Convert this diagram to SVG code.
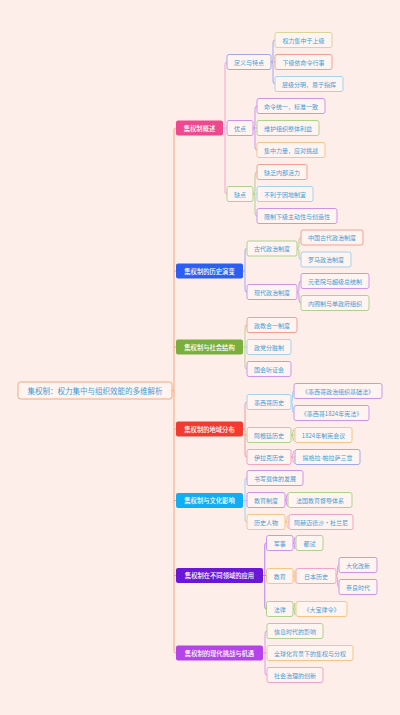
<svg xmlns="http://www.w3.org/2000/svg" width="400" height="715" viewBox="0 0 400 715">
<style>
text{font-family:"Noto Sans CJK SC","Noto Sans",sans-serif;dominant-baseline:central;text-anchor:middle}
.n rect{fill:#fff4f0;stroke-width:1}
.n text{font-size:6px;fill:#3e9ed9}
.h rect{stroke:none}
.h text{font-size:6.3px;fill:#ffffff;font-weight:500}
.c path{fill:none;stroke-width:1}
.kh{stroke:#d8d49c}.sa{stroke:#f4a091}.lb{stroke:#a4d2f0}.bp{stroke:#a3a8ee}
.pu{stroke:#cd95ea}.gr{stroke:#aed18e}.or{stroke:#f7c48a}.pk{stroke:#f3a3c3}
</style>
<rect width="400" height="715" fill="#fdeeea"/>

<g id="connectors" class="c">
<path stroke="#f5a77c" d="M172,390.5 H174 M176,128 Q174,128 174,130 V651 Q174,653 176,653 M174,271 H176 M174,347 H176 M174,429 H176 M174,500.5 H176 M174,575.5 H176"/>
<path stroke="#f6a6c8" d="M227,62 Q225,62 225,64 V192 Q225,194 227,194 M223,128 H227"/>
<path stroke="#a3a6ee" d="M247,248.5 Q245,248.5 245,250.5 V290 Q245,292 247,292 M243,271 H245"/>
<path stroke="#b7d38e" d="M247,325 Q245,325 245,327 V367 Q245,369 247,369 M243,347 H247"/>
<path stroke="#f29aa0" d="M247,402 Q245,402 245,404 V455 Q245,457 247,457 M243,429 H245 M245,435 H247"/>
<path stroke="#9fd0f0" d="M247,478 Q245,478 245,480 V520 Q245,522 247,522 M243,500.5 H247"/>
<path stroke="#b77de6" d="M266.5,543 Q264.8,543 264.8,545 V607 Q264.8,609 266.5,609 M263,575.5 H266.5"/>
<path stroke="#d59cec" d="M267,631 Q265,631 265,633 V673 Q265,675 267,675 M263,653 H267"/>

<path class="bp" d="M275,40 Q273,40 273,43 V59 Q273,62 271,62 Q273,62 273,65 V81 Q273,84 275,84 M271,62 H275"/>
<path class="pu" d="M257,106 Q255,106 255,109 V125 Q255,128 253,128 Q255,128 255,131 V147 Q255,150 257,150 M253,128 H257"/>
<path class="gr" d="M257,172 Q255,172 255,175 V191 Q255,194 253,194 Q255,194 255,197 V213 Q255,216 257,216 M253,194 H257"/>
<path class="gr" d="M301,237.5 Q299,237.5 299,240.5 V245.5 Q299,248.5 297,248.5 Q299,248.5 299,251.5 V256.5 Q299,259.5 301,259.5"/>
<path class="pu" d="M301,281 Q299,281 299,284 V289 Q299,292 297,292 Q299,292 299,295 V300 Q299,303 301,303"/>
<path class="lb" d="M294,391 Q292.5,391 292.5,394 V399 Q292.5,402 291,402 Q292.5,402 292.5,405 V410 Q292.5,413 294,413"/>
<path class="gr" d="M294.5,429 Q293,429 293,432 Q293,435 291,435 Q293,435 293,438 Q293,441 294.5,441 M291,435 H295"/>
<path class="pk" d="M294.5,451 Q293,451 293,454 Q293,457 291,457 Q293,457 293,460 Q293,463 294.5,463 M291,457 H295"/>
<path class="pu" d="M288,494 Q286.5,494 286.5,497 Q286.5,500 285,500 Q286.5,500 286.5,503 Q286.5,506 288,506 M285,500 H288"/>
<path class="or" d="M288.5,516 Q287,516 287,519 Q287,522 285,522 Q287,522 287,525 Q287,528 288.5,528 M285,522 H289"/>
<path class="pu" d="M295.5,537 Q294.5,537 294.5,540 Q294.5,543 293,543 Q294.5,543 294.5,546 Q294.5,549 295.5,549 M293,543 H296"/>
<path class="or" d="M295.5,570 Q294.5,570 294.5,573 Q294.5,576 293,576 Q294.5,576 294.5,579 Q294.5,582 295.5,582 M293,576 H296"/>
<path class="pk" d="M339,565 Q337.5,565 337.5,568 V573 Q337.5,576 336,576 Q337.5,576 337.5,579 V584 Q337.5,587 339,587"/>
<path class="gr" d="M295.5,603 Q294.5,603 294.5,606 Q294.5,609 293,609 Q294.5,609 294.5,612 Q294.5,615 295.5,615 M293,609 H296"/>
</g>

<g id="root" class="n"><rect x="18" y="382" width="154" height="17" rx="2.5" style="stroke:#f5a77c"/><text x="95" y="390.5" style="font-size:7.5px">集权制：权力集中与组织效能的多维解析</text></g>

<g id="l1-a" class="h"><rect x="176" y="120.5" width="47" height="15" rx="2" fill="#f0488e"/><text x="199.5" y="128">集权制概述</text></g>
<g id="l1-b" class="h"><rect x="176" y="263.5" width="67" height="15" rx="2" fill="#2c5ef2"/><text x="209.5" y="271">集权制的历史演变</text></g>
<g id="l1-c" class="h"><rect x="176" y="339.5" width="67" height="15" rx="2" fill="#7aae3e"/><text x="209.5" y="347">集权制与社会结构</text></g>
<g id="l1-d" class="h"><rect x="176" y="421.5" width="67" height="15" rx="2" fill="#f03c30"/><text x="209.5" y="429">集权制的地域分布</text></g>
<g id="l1-e" class="h"><rect x="176" y="493" width="67" height="15" rx="2" fill="#10aef5"/><text x="209.5" y="500.5">集权制与文化影响</text></g>
<g id="l1-f" class="h"><rect x="176" y="568" width="87" height="15" rx="2" fill="#6b17d6"/><text x="219.5" y="575.5">集权制在不同领域的应用</text></g>
<g id="l1-g" class="h"><rect x="176" y="645.5" width="87" height="15" rx="2" fill="#b443ea"/><text x="219.5" y="653">集权制的现代挑战与机遇</text></g>

<g id="a1" class="n"><rect class="bp" x="227" y="54.5" width="44" height="15" rx="2"/><text x="249" y="62">定义与特点</text></g>
<g id="a11" class="n"><rect class="kh" x="275" y="32.5" width="57" height="15" rx="2"/><text x="303.5" y="40">权力集中于上级</text></g>
<g id="a12" class="n"><rect class="sa" x="275" y="54.5" width="57" height="15" rx="2"/><text x="303.5" y="62">下级依命令行事</text></g>
<g id="a13" class="n"><rect class="lb" x="275" y="76.5" width="68" height="15" rx="2"/><text x="309" y="84">层级分明，易于指挥</text></g>
<g id="a2" class="n"><rect class="pu" x="227" y="120.5" width="26" height="15" rx="2"/><text x="240" y="128">优点</text></g>
<g id="a21" class="n"><rect class="pu" x="257" y="98.5" width="68" height="15" rx="2"/><text x="291" y="106">命令统一，标准一致</text></g>
<g id="a22" class="n"><rect class="gr" x="257" y="120.5" width="62" height="15" rx="2"/><text x="288" y="128">维护组织整体利益</text></g>
<g id="a23" class="n"><rect class="or" x="257" y="142.5" width="68" height="15" rx="2"/><text x="291" y="150">集中力量，应对挑战</text></g>
<g id="a3" class="n"><rect class="gr" x="227" y="186.5" width="26" height="15" rx="2"/><text x="240" y="194">缺点</text></g>
<g id="a31" class="n"><rect class="sa" x="257" y="164.5" width="50" height="15" rx="2"/><text x="282" y="172">缺乏内部活力</text></g>
<g id="a32" class="n"><rect class="lb" x="257" y="186.5" width="56" height="15" rx="2"/><text x="285" y="194">不利于因地制宜</text></g>
<g id="a33" class="n"><rect class="pu" x="257" y="208.5" width="80" height="15" rx="2"/><text x="297" y="216">限制下级主动性与创造性</text></g>

<g id="b1" class="n"><rect class="gr" x="247" y="241" width="50" height="15" rx="2"/><text x="272" y="248.5">古代政治制度</text></g>
<g id="b11" class="n"><rect class="sa" x="301" y="230" width="62" height="15" rx="2"/><text x="332" y="237.5">中国古代政治制度</text></g>
<g id="b12" class="n"><rect class="lb" x="301" y="252" width="50" height="15" rx="2"/><text x="326" y="259.5">罗马政治制度</text></g>
<g id="b2" class="n"><rect class="pu" x="247" y="284.5" width="50" height="15" rx="2"/><text x="272" y="292">现代政治制度</text></g>
<g id="b21" class="n"><rect class="pu" x="301" y="273.5" width="68" height="15" rx="2"/><text x="335" y="281">元老院与超级总统制</text></g>
<g id="b22" class="n"><rect class="gr" x="301" y="295.5" width="68" height="15" rx="2"/><text x="335" y="303">内阁制与单政府组织</text></g>

<g id="c1" class="n"><rect class="sa" x="247" y="317.5" width="50" height="15" rx="2"/><text x="272" y="325">政教合一制度</text></g>
<g id="c2" class="n"><rect class="lb" x="247" y="339.5" width="44" height="15" rx="2"/><text x="269" y="347">政党分赃制</text></g>
<g id="c3" class="n"><rect class="pu" x="247" y="361.5" width="44" height="15" rx="2"/><text x="269" y="369">国会听证会</text></g>

<g id="d1" class="n"><rect class="lb" x="247" y="394.5" width="44" height="15" rx="2"/><text x="269" y="402">墨西哥历史</text></g>
<g id="d11" class="n"><rect class="pu" x="294" y="383.5" width="88" height="15" rx="2"/><text x="338" y="391">《墨西哥政治组织基础法》</text></g>
<g id="d12" class="n"><rect class="pu" x="294" y="405.5" width="75" height="15" rx="2"/><text x="331.5" y="413">《墨西哥1824年宪法》</text></g>
<g id="d2" class="n"><rect class="gr" x="247" y="427.5" width="44" height="15" rx="2"/><text x="269" y="435">阿根廷历史</text></g>
<g id="d21" class="n"><rect class="or" x="295" y="427.5" width="57" height="15" rx="2"/><text x="323.5" y="435">1824年制宪会议</text></g>
<g id="d3" class="n"><rect class="pk" x="247" y="449.5" width="44" height="15" rx="2"/><text x="269" y="457">伊拉克历史</text></g>
<g id="d31" class="n"><rect class="bp" x="295" y="449.5" width="65" height="15" rx="2"/><text x="327.5" y="457">提格拉-帕拉萨三世</text></g>

<g id="e1" class="n"><rect class="pu" x="247" y="470.5" width="56" height="15" rx="2"/><text x="275" y="478">书写载体的发展</text></g>
<g id="e2" class="n"><rect class="pu" x="247" y="492.5" width="38" height="15" rx="2"/><text x="266" y="500">教育制度</text></g>
<g id="e21" class="n"><rect class="gr" x="288" y="492.5" width="64" height="15" rx="2"/><text x="320" y="500">法国教育督导体系</text></g>
<g id="e3" class="n"><rect class="or" x="247" y="514.5" width="38" height="15" rx="2"/><text x="266" y="522">历史人物</text></g>
<g id="e31" class="n"><rect class="pk" x="289" y="514.5" width="64" height="15" rx="2"/><text x="321" y="522">阿赫迈德沙·杜兰尼</text></g>

<g id="f1" class="n"><rect class="pu" x="266.5" y="535.5" width="26.5" height="15" rx="2"/><text x="279.75" y="543">军事</text></g>
<g id="f11" class="n"><rect class="gr" x="296" y="535.5" width="27" height="15" rx="2"/><text x="309.5" y="543">都试</text></g>
<g id="f2" class="n"><rect class="or" x="266.5" y="568.5" width="26.5" height="15" rx="2"/><text x="279.75" y="576">教育</text></g>
<g id="f21" class="n"><rect class="pk" x="296" y="568.5" width="40" height="15" rx="2"/><text x="316" y="576">日本历史</text></g>
<g id="f211" class="n"><rect class="pu" x="339" y="557.5" width="38" height="15" rx="2"/><text x="358" y="565">大化改新</text></g>
<g id="f212" class="n"><rect class="pu" x="339" y="579.5" width="38" height="15" rx="2"/><text x="358" y="587">奈良时代</text></g>
<g id="f3" class="n"><rect class="gr" x="266.5" y="601.5" width="26.5" height="15" rx="2"/><text x="279.75" y="609">法律</text></g>
<g id="f31" class="n"><rect class="or" x="296" y="601.5" width="51" height="15" rx="2"/><text x="321.5" y="609">《大宝律令》</text></g>

<g id="g1" class="n"><rect class="gr" x="267" y="623.5" width="56" height="15" rx="2"/><text x="295" y="631">信息时代的影响</text></g>
<g id="g2" class="n"><rect class="or" x="267" y="645.5" width="86" height="15" rx="2"/><text x="310" y="653">全球化背景下的集权与分权</text></g>
<g id="g3" class="n"><rect class="pk" x="267" y="667.5" width="56" height="15" rx="2"/><text x="295" y="675">社会治理的创新</text></g>
</svg>
